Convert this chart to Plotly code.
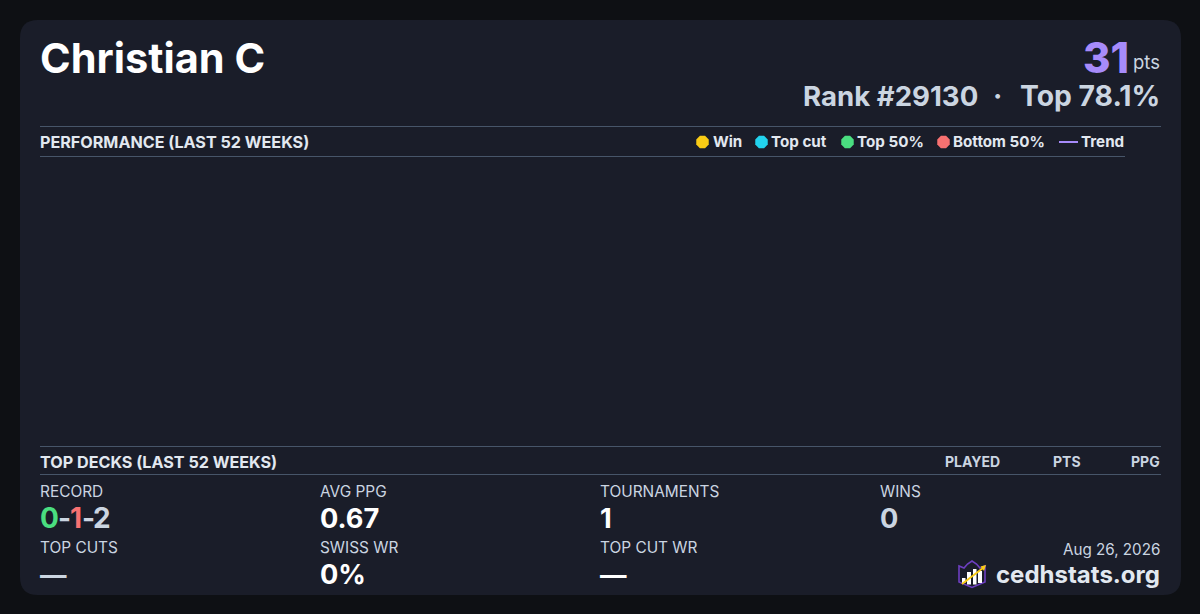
import plotly.graph_objects as go

# ---- content ----
player_name = "Christian C"
points = "31"
points_unit = "pts"
rank_parts = ["Rank #29130", "\u00b7", "Top 78.1%"]
section_perf = "PERFORMANCE (LAST 52 WEEKS)"
section_decks = "TOP DECKS (LAST 52 WEEKS)"
deck_columns = ["PLAYED", "PTS", "PPG"]
legend_labels = ["Win", "Top cut", "Top 50%", "Bottom 50%"]
legend_colors = ["#facc15", "#22d3ee", "#4ade80", "#f87171"]
trend_label = "Trend"
trend_color = "#a78bfa"
stat_row1_labels = ["RECORD", "AVG PPG", "TOURNAMENTS", "WINS"]
stat_row1_values = [None, "0.67", "1", "0"]
stat_row2_labels = ["TOP CUTS", "SWISS WR", "TOP CUT WR"]
stat_row2_values = ["\u2014", "0%", "\u2014"]
record_parts = ["0", "-", "1", "-", "2"]
date_text = "Aug 26, 2026"
brand_text = "cedhstats.org"

# ---- style ----
FONT = "Inter"
BG = "#0e1014"
CARD = "#1a1d29"
WHITE = "#ffffff"
LIGHT = "#e2e8f0"
MID = "#cbd5e1"
LINE = "#475569"
record_x = [40, 58, 70, 82, 92.5]
record_colors = ["#4ade80", MID, "#f87171", MID, MID]
legend_marker_x = [702.5, 761.5, 847.5, 943.5]
legend_text_x = [712.5, 770.5, 856.5, 952.5]
stat_x = [40, 320, 600, 880]

annotations = []


def text(x, y, s, size, color=LIGHT, weight=400, anchor="left"):
    annotations.append(dict(
        x=x, y=y, xref="x", yref="y", text=s, showarrow=False, xanchor=anchor,
        yanchor="middle", borderpad=0, borderwidth=0,
        font=dict(family=FONT, size=size, color=color, weight=weight),
    ))


def hline(x0, x1, y):
    return dict(type="line", xref="x", yref="y", x0=x0, x1=x1, y0=y, y1=y,
                line=dict(color=LINE, width=1), layer="below")


# card with rounded corners
r = 18
card_path = (f"M {20+r} 20 L {1181-r} 20 Q 1181 20 1181 {20+r} L 1181 {595-r} Q 1181 595 {1181-r} 595 "
             f"L {20+r} 595 Q 20 595 20 {595-r} L 20 {20+r} Q 20 20 {20+r} 20 Z")
shapes = [
    dict(type="path", path=card_path, xref="x", yref="y", fillcolor=CARD,
         line=dict(width=0), layer="below"),
    hline(40, 1161, 126.5), hline(40, 1125, 156.5),
    hline(40, 1161, 446.5), hline(40, 1161, 474.5),
    # trend key
    dict(type="line", xref="x", yref="y", x0=1059, x1=1078, y0=142, y1=142,
         line=dict(color=trend_color, width=2)),
    # logo: shield with crown
    dict(type="path", xref="x", yref="y",
         path="M 959 566 L 959 582 L 972 587.5 L 985 582 L 985 566 L 980 568 L 976.5 564 L 972 561 L 967.5 564 L 964 568 Z",
         fillcolor="#1a1d29", line=dict(color="#6d3fc0", width=1.6)),
    # logo: bars
    dict(type="rect", xref="x", yref="y", x0=962, x1=965.5, y0=578, y1=583, fillcolor=WHITE, line=dict(width=0)),
    dict(type="rect", xref="x", yref="y", x0=967, x1=971, y0=572, y1=584.5, fillcolor=WHITE, line=dict(width=0)),
    dict(type="rect", xref="x", yref="y", x0=973, x1=976.5, y0=569, y1=584.5, fillcolor=WHITE, line=dict(width=0)),
    dict(type="rect", xref="x", yref="y", x0=978, x1=982, y0=571, y1=583, fillcolor=WHITE, line=dict(width=0)),
    # logo: arrow
    dict(type="line", xref="x", yref="y", x0=962, x1=983, y0=584, y1=568, line=dict(color="#facc15", width=2)),
    dict(type="path", xref="x", yref="y", path="M 986 565 L 980.5 566.5 L 984 571 Z", fillcolor="#facc15", line=dict(width=0)),
]

# header
text(40, 58, player_name, 41.5, WHITE, 700)
text(1129, 57.5, points, 42, trend_color, 800, "right")
text(1160, 61.5, points_unit, 18.5, MID, 400, "right")
text(977.5, 95.5, rank_parts[0], 27.6, MID, 700, "right")
text(997.5, 95.5, rank_parts[1], 28, MID, 700, "center")
text(1159.5, 95.5, rank_parts[2], 28.3, MID, 700, "right")

# section heads
text(40, 142, section_perf, 16.15, LIGHT, 700)
text(40, 462, section_decks, 16.15, LIGHT, 700)
for cx, label in zip([999.5, 1080.5, 1160], deck_columns):
    text(cx, 461.5, label, 14, MID, 700, "right")

# legend labels
for tx, label in zip(legend_text_x, legend_labels):
    text(tx, 141.5, label, 15.2, LIGHT, 700)
text(1080.5, 141.5, trend_label, 15.2, LIGHT, 700)

# stats
for x, label in zip(stat_x, stat_row1_labels):
    text(x, 491.5, label, 15.4, MID, 400)
for x, part, c in zip(record_x, record_parts, record_colors):
    text(x, 518, part, 28, c, 700)
text(stat_x[1], 518, stat_row1_values[1], 27.2, WHITE, 700)
text(stat_x[2], 518, stat_row1_values[2], 27.2, WHITE, 700)
text(stat_x[3], 518, stat_row1_values[3], 27.2, MID, 700)
for x, label in zip(stat_x, stat_row2_labels):
    text(x, 547.5, label, 15.4, MID, 400)
text(stat_x[0], 574, stat_row2_values[0], 26.5, MID, 700)
text(stat_x[1], 574, stat_row2_values[1], 27.2, WHITE, 700)
text(stat_x[2], 574, stat_row2_values[2], 26.5, WHITE, 700)

# footer
text(1160, 549.5, date_text, 15.2, MID, 400, "right")
text(1160, 574, brand_text, 24, LIGHT, 700, "right")

fig = go.Figure(go.Scatter(
    x=legend_marker_x, y=[142] * len(legend_marker_x), mode="markers",
    marker=dict(symbol="octagon", size=13.5, color=legend_colors, line=dict(width=0)),
    hoverinfo="skip", showlegend=False,
))
fig.update_layout(
    width=1200, height=614, margin=dict(l=0, r=0, t=0, b=0),
    paper_bgcolor=BG, plot_bgcolor=BG, showlegend=False,
    xaxis=dict(range=[0, 1200], visible=False, fixedrange=True),
    yaxis=dict(range=[614, 0], visible=False, fixedrange=True),
    shapes=shapes, annotations=annotations,
)
fig.write_html("out.html", config=dict(displayModeBar=False),
               post_script="document.body.style.margin='0';document.body.style.background='%s';" % BG)
